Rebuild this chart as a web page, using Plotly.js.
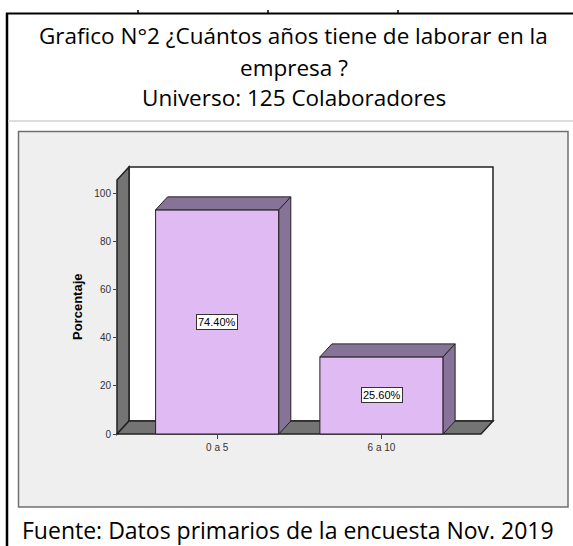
<!DOCTYPE html>
<html>
<head>
<meta charset="utf-8">
<script src="https://cdn.plot.ly/plotly-3.0.1.min.js"></script>
<style>html,body{margin:0;padding:0;background:#fff;}#chart{width:573px;height:546px;}</style>
</head>
<body>
<div id="chart"></div>
<script>
// ---- data ----
const categories = ['0 a 5', '6 a 10'];
const counts = [93, 32];           // bar heights as drawn
const percents = [74.40, 25.60];   // labels shown in bars
const yTicks = [0, 20, 40, 60, 80, 100];
const titleLines = ['Grafico N°2 ¿Cuántos años tiene de laborar en la', 'empresa ?', 'Universo: 125 Colaboradores'];
const footerText = 'Fuente: Datos primarios de la encuesta Nov. 2019';
const yTitle = 'Porcentaje';

// ---- geometry ----
const W = 573, H = 546;
const L = 112, R = 498, T = 160, B = 440;      // plot area in px
const X0PX = 217.2, PXX = 164.3;                // px of category 0, px per category
const Y0PX = 434, PXY = 2.41;                    // px of value 0, px per unit
const toX = px => (px - X0PX) / PXX;
const toY = py => (Y0PX - py) / PXY;
const pX = px => (px - L) / (R - L);
const pY = py => (B - py) / (B - T);
const DX = 12 / PXX, DY = 13 / PXY;             // 3D depth in data units
const BW = 0.75;
const WX0 = toX(117), WX1 = toX(493), WYT = toY(167);

const xs = categories.map((c, i) => i);

// bar top and side faces
const topX = [], topY = [], sideX = [], sideY = [];
xs.forEach((x, i) => {
  const v = counts[i], a = x - BW / 2, b = x + BW / 2;
  topX.push(a, a + DX, b + DX, b, a, null);
  topY.push(v, v + DY, v + DY, v, v, null);
  sideX.push(b, b + DX, b + DX, b, b, null);
  sideY.push(v, v + DY, DY, 0, v, null);
});

const face = '#dfbaf3', dark = '#877397', wall = '#747474';

const traces = [
  {type: 'bar', x: xs, y: counts, width: BW, marker: {color: face, line: {color: '#222', width: 1}}, hoverinfo: 'none'},
  {type: 'scatter', mode: 'lines', x: topX, y: topY, fill: 'toself', fillcolor: dark, line: {color: '#222', width: 1}, hoverinfo: 'none'},
  {type: 'scatter', mode: 'lines', x: sideX, y: sideY, fill: 'toself', fillcolor: dark, line: {color: '#222', width: 1}, hoverinfo: 'none'}
];

const path = pts => 'M' + pts.map(p => p[0] + ',' + p[1]).join(' L') + ' Z';

const shapes = [
  // outer grey chart box
  {type: 'rect', xref: 'paper', yref: 'paper', x0: pX(18.5), x1: pX(568), y0: pY(507), y1: pY(131.5), fillcolor: '#efefef', line: {color: '#707070', width: 1.5}, layer: 'below'},
  // back panel
  {type: 'path', xref: 'x', yref: 'y', path: path([[WX0 + DX, DY], [WX1, DY], [WX1, WYT], [WX0 + DX, WYT]]), fillcolor: '#ffffff', line: {color: '#222', width: 1.5}, layer: 'below'},
  // left wall
  {type: 'path', xref: 'x', yref: 'y', path: path([[WX0, 0], [WX0, WYT - DY], [WX0 + DX, WYT], [WX0 + DX, DY]]), fillcolor: wall, line: {color: '#222', width: 1.5}, layer: 'below'},
  // floor
  {type: 'path', xref: 'x', yref: 'y', path: path([[WX0, 0], [WX0 + DX, DY], [WX1, DY], [WX1 - DX, 0]]), fillcolor: wall, line: {color: '#222', width: 1.5}, layer: 'below'},
  // page frame
  {type: 'line', xref: 'paper', yref: 'paper', x0: pX(7), x1: pX(7), y0: pY(13), y1: pY(548), line: {color: '#000', width: 2.5}},
  {type: 'line', xref: 'paper', yref: 'paper', x0: pX(6), x1: pX(575), y0: pY(13.5), y1: pY(13.5), line: {color: '#000', width: 2}},
  {type: 'line', xref: 'paper', yref: 'paper', x0: pX(8), x1: pX(575), y0: pY(121), y1: pY(121), line: {color: '#dcdcdc', width: 2}},
  {type: 'line', xref: 'paper', yref: 'paper', x0: pX(138), x1: pX(138), y0: pY(10), y1: pY(13), line: {color: '#000', width: 1.5}},
  {type: 'line', xref: 'paper', yref: 'paper', x0: pX(268), x1: pX(268), y0: pY(10), y1: pY(13), line: {color: '#000', width: 1.5}},
  {type: 'line', xref: 'paper', yref: 'paper', x0: pX(398), x1: pX(398), y0: pY(10), y1: pY(13), line: {color: '#000', width: 1.5}}
];

const titleFont = {family: '"Open Sans", "Noto Sans", sans-serif', size: 22.5, color: '#000'};
const footFont = {family: '"Open Sans", "Noto Sans", sans-serif', size: 23, color: '#000'};
const titleY = [35, 67, 98];
const annotations = titleLines.map((t, i) => ({
  xref: 'paper', yref: 'paper', x: pX(293.5), y: pY(titleY[i]), xanchor: 'center', yanchor: 'middle',
  text: t, showarrow: false, font: titleFont
}));
annotations.push({xref: 'paper', yref: 'paper', x: pX(288), y: pY(530), xanchor: 'center', yanchor: 'middle',
  text: footerText, showarrow: false, font: footFont});
annotations.push({xref: 'paper', yref: 'paper', x: pX(77), y: pY(307), xanchor: 'center', yanchor: 'middle',
  text: yTitle, textangle: -90, showarrow: false,
  font: {family: 'Arial, "Liberation Sans", sans-serif', size: 13, color: '#000', weight: 'bold'}});
xs.forEach((x, i) => annotations.push({
  xref: 'x', yref: 'y', x: x, y: counts[i] / 2, text: percents[i].toFixed(2) + '%', showarrow: false,
  font: {family: 'Arial, "Liberation Sans", sans-serif', size: 11, color: '#000'},
  bgcolor: '#fff', bordercolor: '#333', borderwidth: 1, borderpad: 1
}));

const layout = {
  width: W, height: H,
  margin: {l: L, r: W - R, t: T, b: H - B, pad: 0},
  paper_bgcolor: '#ffffff', plot_bgcolor: 'rgba(0,0,0,0)',
  showlegend: false,
  xaxis: {
    range: [toX(L), toX(R)], tickvals: xs, ticktext: categories,
    anchor: 'free', position: pY(434),
    showgrid: false, zeroline: false, showline: false,
    ticks: 'outside', ticklen: 4, tickcolor: '#444', tickwidth: 1,
    tickfont: {family: 'Arial, "Liberation Sans", sans-serif', size: 10, color: '#333'}, fixedrange: true
  },
  yaxis: {
    range: [toY(B), toY(T)], tickvals: yTicks,
    anchor: 'free', position: pX(117),
    showgrid: false, zeroline: false, showline: false,
    ticks: 'outside', ticklen: 4, tickcolor: '#444', tickwidth: 1,
    tickfont: {family: 'Arial, "Liberation Sans", sans-serif', size: 10, color: '#333'},
    fixedrange: true
  },
  shapes: shapes,
  annotations: annotations
};

Plotly.newPlot('chart', traces, layout, {displayModeBar: false, staticPlot: true});
</script>
</body>
</html>
